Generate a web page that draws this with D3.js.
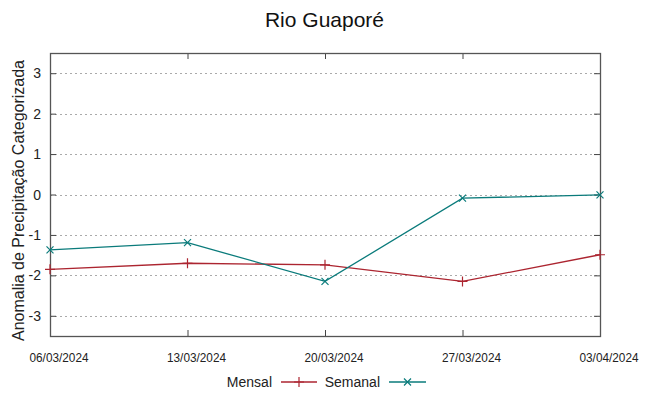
<!DOCTYPE html>
<html><head><meta charset="utf-8">
<script src="https://cdn.jsdelivr.net/npm/d3@7"></script>
<style>body{margin:0;background:#fff}svg{display:block;font-family:"Liberation Sans",Arial,sans-serif}</style>
</head><body><svg id="c" width="649" height="396"></svg>
<script>
const dates = ["06/03/2024","13/03/2024","20/03/2024","27/03/2024","03/04/2024"];
const mensal = [-1.85,-1.70,-1.74,-2.15,-1.49];
const semanal = [-1.37,-1.19,-2.15,-0.09,-0.01];
const yTicks = [-3,-2,-1,0,1,2,3];
const title = "Rio Guaporé";
const yLabel = "Anomalia de Precipitação Categorizada";
const seriesNames = ["Mensal","Semanal"];

const svg = d3.select("#c");
const L=50,R=600,T=53,B=336;
const x = d3.scalePoint().domain(dates).range([L,R]);
const y = d3.scaleLinear().domain([-3.5,3.5]).range([B,T]);
const cM="#ac2530", cS="#0a7b7b";

// grid
svg.append("g").selectAll("line").data(yTicks).join("line")
 .attr("x1",L).attr("x2",R).attr("y1",d=>Math.round(y(d))+0.5).attr("y2",d=>Math.round(y(d))+0.5)
 .attr("stroke","#aaa").attr("stroke-dasharray","2,3").attr("stroke-width",1);

// axes with inward ticks
const ax = (g,a)=>{g.call(a); g.select(".domain").remove(); g.selectAll("line").attr("stroke","#444");};
svg.append("g").attr("transform",`translate(${L},0)`).call(g=>ax(g,d3.axisRight(y).tickValues(yTicks).tickSize(6).tickFormat("")));
svg.append("g").attr("transform",`translate(${R},0)`).call(g=>ax(g,d3.axisLeft(y).tickValues(yTicks).tickSize(6).tickFormat("")));
svg.append("g").attr("transform",`translate(0,${B})`).call(g=>ax(g,d3.axisTop(x).tickSize(6).tickFormat("")));
svg.append("g").attr("transform",`translate(0,${T})`).call(g=>ax(g,d3.axisBottom(x).tickSize(6).tickFormat("")));

// y tick labels
svg.append("g").selectAll("text").data(yTicks).join("text")
 .attr("x",41).attr("y",d=>y(d)).attr("dy","0.36em").attr("text-anchor","end")
 .attr("font-size",14).attr("fill","#222").text(d=>d);
// x tick labels (offset right as in reference)
svg.append("g").selectAll("text").data(dates).join("text")
 .attr("x",d=>x(d)+9).attr("y",362).attr("text-anchor","middle")
 .attr("font-size",13.5).attr("fill","#222").attr("textLength",59).attr("lengthAdjust","spacingAndGlyphs").text(d=>d);

// border
svg.append("rect").attr("x",L+0.5).attr("y",T+0.5).attr("width",R-L).attr("height",B-T)
 .attr("fill","none").attr("stroke","#555").attr("stroke-width",1.3);

// title & y label
svg.append("text").attr("x",324.5).attr("y",27).attr("text-anchor","middle").attr("font-size",21).attr("fill","#111").text(title);
svg.append("text").attr("transform",`translate(24,${(T+B)/2+6}) rotate(-90)`).attr("text-anchor","middle")
 .attr("font-size",16).attr("fill","#222").text(yLabel);

const line = d3.line().x((d,i)=>x(dates[i])).y(d=>y(d));
function plus(g,cx,cy,s,c){g.append("path").attr("d",`M${cx-s},${cy}H${cx+s}M${cx},${cy-s}V${cy+s}`).attr("stroke",c).attr("stroke-width",1.2);}
function cross(g,cx,cy,s,c){g.append("path").attr("d",`M${cx-s},${cy-s}L${cx+s},${cy+s}M${cx-s},${cy+s}L${cx+s},${cy-s}`).attr("stroke",c).attr("stroke-width",1.2);}

const gM = svg.append("g");
gM.append("path").datum(mensal).attr("d",line).attr("fill","none").attr("stroke",cM).attr("stroke-width",1.3);
mensal.forEach((v,i)=>plus(gM,x(dates[i]),y(v),5,cM));
const gS = svg.append("g");
gS.append("path").datum(semanal).attr("d",line).attr("fill","none").attr("stroke",cS).attr("stroke-width",1.3);
semanal.forEach((v,i)=>cross(gS,x(dates[i]),y(v),3.5,cS));

// legend
const ly=382;
svg.append("text").attr("x",272).attr("y",ly+5).attr("text-anchor","end").attr("font-size",14).attr("fill","#222").text(seriesNames[0]);
svg.append("line").attr("x1",281).attr("x2",317).attr("y1",ly).attr("y2",ly).attr("stroke",cM).attr("stroke-width",1.3);
plus(svg,299,ly,5,cM);
svg.append("text").attr("x",380).attr("y",ly+5).attr("text-anchor","end").attr("font-size",14).attr("fill","#222").text(seriesNames[1]);
svg.append("line").attr("x1",389).attr("x2",426).attr("y1",ly).attr("y2",ly).attr("stroke",cS).attr("stroke-width",1.3);
cross(svg,407.5,ly,3.5,cS);
</script></body></html>
